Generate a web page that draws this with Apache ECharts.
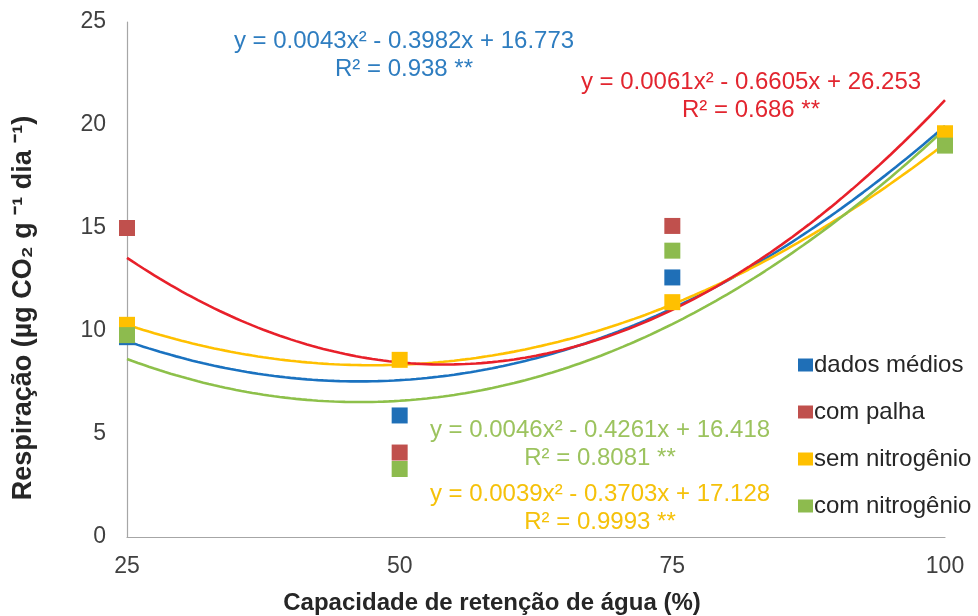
<!DOCTYPE html>
<html>
<head>
<meta charset="utf-8">
<script src="https://cdn.jsdelivr.net/npm/echarts@6/dist/echarts.min.js"></script>
<style>
  html, body { margin: 0; padding: 0; background: #fff; }
  #chart { width: 978px; height: 616px; }
</style>
</head>
<body>
<div id="chart"></div>
<script>
// Water-holding capacity levels (%)
const capacidade = [25, 50, 75, 100];

// Measured respiration per treatment
const dadosMedios    = [9.7, 5.9, 12.6, 19.5];
const comPalha       = [15.0, 4.1, 15.1, 19.4];
const semNitrogenio  = [10.3, 8.6, 11.4, 19.6];
const comNitrogenio  = [9.8, 3.3, 13.9, 19.0];

// Fitted quadratic trendlines: [a, b, c] for y = a·x² + b·x + c
const coefDadosMedios   = [0.0043, -0.3982, 16.773];
const coefComPalha      = [0.0061, -0.6605, 26.253];
const coefSemNitrogenio = [0.0039, -0.3703, 17.128];
const coefComNitrogenio = [0.0046, -0.4261, 16.418];

// Coefficients of determination
const r2DadosMedios   = '0.938';
const r2ComPalha      = '0.686';
const r2SemNitrogenio = '0.9993';
const r2ComNitrogenio = '0.8081';

// Axis ticks
const xTicks = [25, 50, 75, 100];
const yTicks = [0, 5, 10, 15, 20, 25];

const seriesNames = ['dados médios', 'com palha', 'sem nitrogênio', 'com nitrogênio'];

const markerColors = ['#1f6fb7', '#c0504d', '#ffc000', '#8dbb4e'];
const lineColors   = ['#1a72c0', '#e8202a', '#ffc000', '#8dc04a'];
const eqColors     = ['#2e7dc0', '#e2252f', '#f5c10a', '#9cc35e'];

function fmtEq(c) {
  const a = c[0].toFixed(4);
  const b = Math.abs(c[1]).toFixed(4);
  return 'y = ' + a + 'x\u00b2 - ' + b + 'x + ' + c[2].toFixed(3);
}

function curve(c) {
  const pts = [];
  for (let x = capacidade[0]; x <= capacidade[capacidade.length - 1]; x += 0.5) {
    pts.push([x, c[0] * x * x + c[1] * x + c[2]]);
  }
  return pts;
}

const measured = [dadosMedios, comPalha, semNitrogenio, comNitrogenio];
const coefs = [coefDadosMedios, coefComPalha, coefSemNitrogenio, coefComNitrogenio];
const r2s = [r2DadosMedios, r2ComPalha, r2SemNitrogenio, r2ComNitrogenio];

const font = '"Liberation Sans", Arial, sans-serif';

const series = [];
// trendlines first (drawn beneath the markers)
[0, 2, 3, 1].forEach(i => {
  series.push({
    name: seriesNames[i] + ' (ajuste)',
    type: 'line',
    data: curve(coefs[i]),
    showSymbol: false,
    symbol: 'none',
    smooth: false,
    lineStyle: { color: lineColors[i], width: 2.6 },
    z: 2,
    silent: true
  });
});
measured.forEach((vals, i) => {
  series.push({
    name: seriesNames[i],
    type: 'scatter',
    data: capacidade.map((x, k) => [x, vals[k]]),
    symbol: 'rect',
    symbolSize: 16,
    itemStyle: { color: markerColors[i], opacity: 1 },
    z: 3 + i
  });
});

// equation labels: [index, centre x, top y]
const eqPlacement = [
  [0, 404, 27],
  [1, 751, 68],
  [3, 600, 416],
  [2, 600, 480]
];
const graphics = [];
eqPlacement.forEach(([i, cx, ty]) => {
  graphics.push({
    type: 'text', x: cx, y: ty,
    style: {
      text: fmtEq(coefs[i]) + '\n' + 'R\u00b2 = ' + r2s[i] + ' **',
      fill: eqColors[i], font: '24px ' + font,
      align: 'center', verticalAlign: 'top', lineHeight: 28
    },
    z: 10
  });
});

const chart = echarts.init(document.getElementById('chart'), null, { renderer: 'canvas' });
chart.setOption({
  backgroundColor: '#ffffff',
  animation: false,
  textStyle: { fontFamily: font },
  grid: { left: 127, right: 33, top: 22, bottom: 79, containLabel: false, outerBoundsMode: 'none' },
  legend: {
    data: seriesNames,
    orient: 'vertical',
    left: 793, top: 348,
    itemWidth: 15, itemHeight: 13, itemGap: 23,
    icon: 'rect',
    textStyle: { fontSize: 24, color: '#262626', fontFamily: font, padding: [0, 0, 0, -4] }
  },
  xAxis: {
    type: 'value', min: xTicks[0], max: xTicks[xTicks.length - 1], interval: 25,
    name: 'Capacidade de retenção de água (%)',
    nameLocation: 'middle', nameGap: 54,
    nameTextStyle: { fontSize: 24, fontWeight: 'bold', color: '#262626', fontFamily: font, padding: [0, 88, 0, 0] },
    axisLine: { lineStyle: { color: '#a6a6a6', width: 1.2 } },
    axisTick: { show: false },
    splitLine: { show: false },
    axisLabel: { fontSize: 23, color: '#404040', margin: 18, fontFamily: font }
  },
  yAxis: {
    type: 'value', min: yTicks[0], max: yTicks[yTicks.length - 1], interval: 5,
    name: 'Respiração (µg CO\u2082 g \u207b\u00b9 dia \u207b\u00b9)',
    nameLocation: 'middle', nameGap: 90, nameRotate: 90,
    nameTextStyle: { fontSize: 27, fontWeight: 'bold', color: '#262626', fontFamily: font, padding: [0, 57, 0, 0] },
    axisLine: { show: true, lineStyle: { color: '#a6a6a6', width: 1.2 } },
    axisTick: { show: false },
    splitLine: { show: false },
    axisLabel: { fontSize: 23, color: '#404040', margin: 21, fontFamily: font }
  },
  graphic: graphics,
  series: series
});
</script>
</body>
</html>
